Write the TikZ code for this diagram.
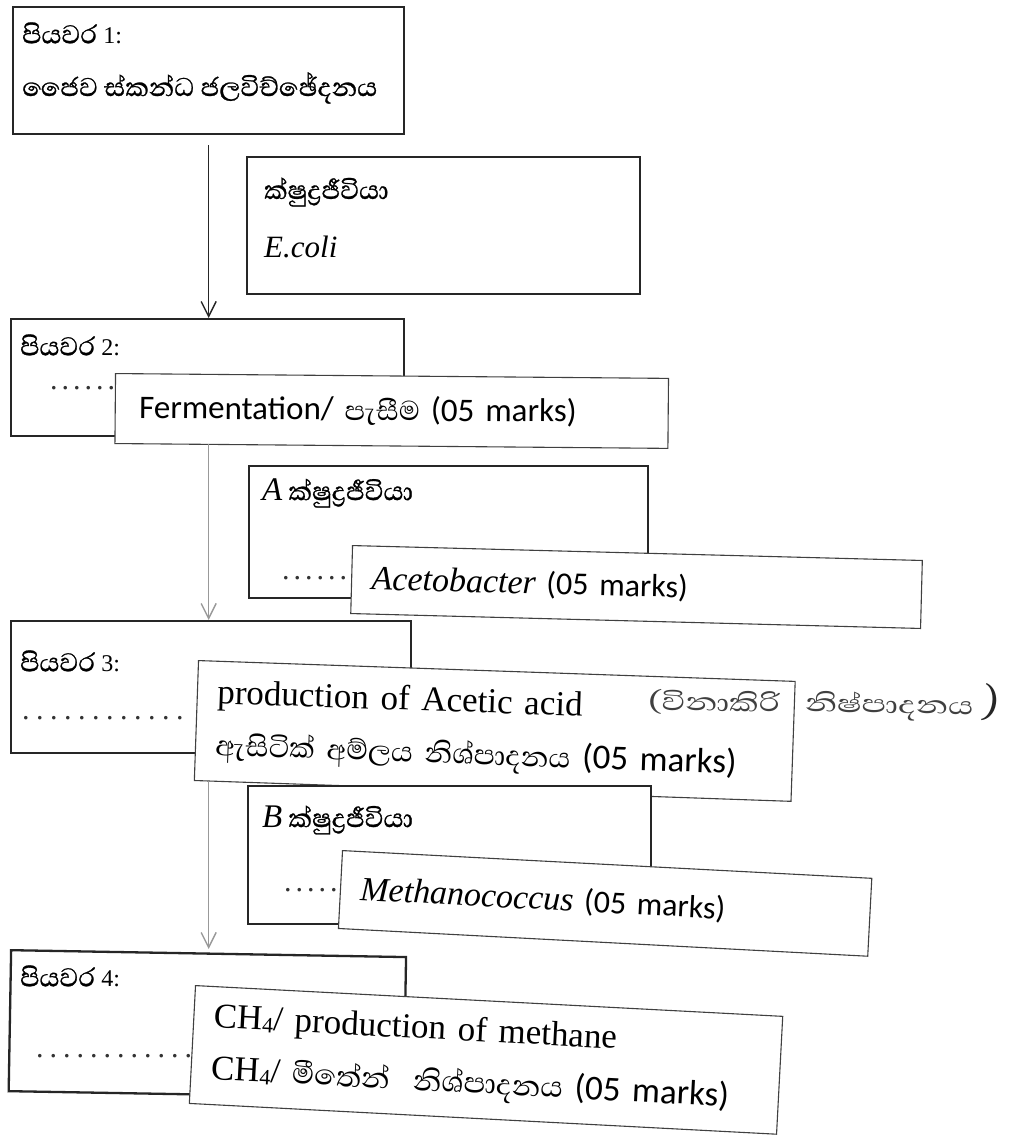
\documentclass[tikz,border=0pt]{standalone}
\usepackage{fontspec}
\setmainfont{Liberation Serif}
\newfontfamily\sinhalafont[Script=Sinhala]{Abhaya Libre}
\newfontfamily\sinhalabold[Script=Sinhala,FakeBold=0.8]{Abhaya Libre}
\newfontfamily\hwfont[Script=Sinhala,FakeStretch=1.3]{Abhaya Libre}
\newfontfamily\calibfont{Carlito}
\usetikzlibrary{arrows.meta}
\newcommand\dotrow[2]{\foreach \i in {1,...,#1}{.\kern#2pt}}
\newcommand\stepno[1]{{\rmfamily\fontsize{24}{26}\selectfont #1}}
\begin{document}
\begin{tikzpicture}[x=1pt,y=-1pt,
  mainbox/.style={draw=black!85, line width=2.3pt, fill=white, inner sep=0pt, anchor=north west},
  ovbox/.style={draw=black!75, line width=1.1pt, fill=white, inner xsep=20pt, inner ysep=0pt, anchor=north west, align=left},
  lbl/.style={anchor=west, inner sep=0pt},
  sfont/.style={font=\fontsize{33}{38}\selectfont\sinhalabold},
  dfont/.style={font=\fontsize{30}{32}\selectfont, text=black!80},
  arrA/.style={draw=black!85, line width=1.4pt, -{Straight Barb[length=15pt,width=15pt,line width=1.4pt]}},
  arrB/.style={draw=black!40, line width=1.4pt, -{Straight Barb[length=15pt,width=15pt,line width=1.4pt]}}
]
\useasboundingbox (0,0) rectangle (1009,1147);
\fill[white] (0,0) rectangle (1009,1147);

% Step 1
\node[mainbox, minimum width=391pt, minimum height=127pt] (s1) at (12,6) {};
\node[lbl, sfont] (s1a) at (22,33) {පියවර \stepno{1:}};
\node[lbl, sfont] (s1b) at (22,88) {ජෛව ස්කන්ධ ජලවිච්ඡේදනය};

% Microorganism E.coli
\node[mainbox, minimum width=393pt, minimum height=137pt] (ec) at (246,156) {};
\node[lbl, sfont] (eca) at (264,192) {ක්ෂුද්^^^^200dරජීවියා};
\node[lbl, font=\fontsize{31}{34}\selectfont\itshape] (ecb) at (264,247) {E.coli};

% Step 2
\node[mainbox, minimum width=393pt, minimum height=117pt] (s2) at (10,318) {};
\node[lbl, sfont] (s2a) at (20,345) {පියවර \stepno{2:}};
\node[lbl, dfont] (s2d) at (50,388) {\dotrow{6}{4}};
\node[ovbox, minimum height=70pt, text width=505pt, inner xsep=24pt, rotate=-0.5, font=\fontsize{33}{38}\selectfont\calibfont] (ferm) at (115,373)
  {Fermentation/ {\sinhalafont\fontsize{35}{38}\selectfont පැසීම} (05 marks)};

% Microorganism A
\node[mainbox, minimum width=399pt, minimum height=132pt] (ma) at (248,465) {};
\node[lbl, sfont] (maa) at (262,493) {{\rmfamily\itshape A} ක්ෂුද්^^^^200dරජීවියා};
\node[lbl, dfont] (mad) at (282,578) {\dotrow{6}{4}};
\node[ovbox, minimum height=68pt, text width=530pt, rotate=-1.5, font=\fontsize{32}{38}\selectfont\calibfont] (acet) at (352,545)
  {{\rmfamily\itshape\fontsize{34}{38}\selectfont Acetobacter} (05 marks)};

% Step 3
\node[mainbox, minimum width=400pt, minimum height=132pt] (s3) at (10,620) {};
\node[lbl, sfont] (s3a) at (20,661) {පියවර \stepno{3:}};
\node[lbl, dfont] (s3d) at (22,718) {\dotrow{12}{6.5}};
\node[ovbox, minimum height=120pt, text width=557pt, rotate=-2, font=\fontsize{35}{52}\selectfont] (acid) at (198,660)
  {production of Acetic acid\\{\sinhalafont\fontsize{36}{40}\selectfont ඇසිටික් අම්ලය නිශ්පාදනය} {\calibfont (05 marks)}};
\node[lbl, rotate=-1, font=\fontsize{32}{38}\selectfont\hwfont, text=black!75] (hw1) at (648,702)
  {(විනාකිරි};
\node[lbl, rotate=-1, font=\fontsize{32}{38}\selectfont\hwfont, text=black!75] (hw2) at (805,705)
  {නිෂ්පාදනය};
\node[lbl, rotate=-8, font=\fontsize{48}{52}\selectfont\sinhalafont, text=black!85] (hw3) at (983,702)
  {)};

% Microorganism B
\node[mainbox, minimum width=403pt, minimum height=138pt] (mb) at (247,785) {};
\node[lbl, sfont] (mba) at (262,820) {{\rmfamily\itshape B} ක්ෂුද්^^^^200dරජීවියා};
\node[lbl, dfont] (mbd) at (284,890) {\dotrow{5}{4}};
\node[ovbox, minimum height=78pt, text width=490pt, rotate=-3, font=\fontsize{32}{38}\selectfont\calibfont] (meth) at (342,850)
  {{\rmfamily\itshape\fontsize{34}{38}\selectfont Methanococcus} (05 marks)};

% Step 4
\node[mainbox, minimum width=395pt, minimum height=141pt, rotate=-1] (s4) at (10,949) {};
\node[lbl, sfont] (s4a) at (20,976) {පියවර \stepno{4:}};
\node[lbl, dfont] (s4d) at (36,1056) {\dotrow{12}{6}};
\node[ovbox, minimum height=118pt, text width=548pt, rotate=-3, font=\fontsize{35}{52}\selectfont] (ch4) at (195,985)
  {CH\raisebox{-2pt}{\fontsize{22}{22}\selectfont 4}/ production of methane\\
   CH\raisebox{-2pt}{\fontsize{22}{22}\selectfont 4}/ {\sinhalafont\fontsize{37}{40}\selectfont මීතේන්\ \ නිශ්පාදනය} {\calibfont (05 marks)}};

% Arrows
\draw[arrA] ([yshift=-10pt]s1.south) -- (s1.south |- s2.north);
\draw[arrB] (s1.south |- ferm.south west) -- (s1.south |- s3.north);
\draw[arrB] (s1.south |- acid.south west) -- (s1.south |- s4.north west);
\end{tikzpicture}
\end{document}
